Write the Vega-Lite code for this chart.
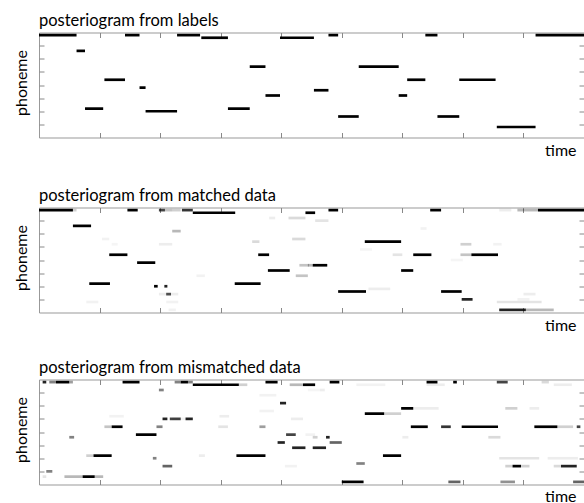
{
  "$schema": "https://vega.github.io/schema/vega-lite/v6.json",
  "padding": {"left": 12, "top": 11.5, "right": 0, "bottom": 0},
  "spacing": 24,
  "config": {
    "font": "Lato",
    "view": {"stroke": "#999", "strokeWidth": 1},
    "title": {"anchor": "start", "frame": "group", "fontSize": 16.5, "font": "Lato", "fontWeight": "normal", "color": "#000", "baseline": "alphabetic", "offset": 3},
    "axis": {"domain": false, "labels": false, "grid": false, "tickColor": "#888", "tickSize": -5, "tickWidth": 1, "titleFont": "Lato", "titleFontSize": 16, "titleFontWeight": "normal", "titleColor": "#000"}
  },
  "datasets": {
    "p1": [
      {"s":0,"e":31,"r":1,"v":1},{"s":31,"e":38,"r":7,"v":1},{"s":38,"e":53,"r":29,"v":1},{"s":54,"e":71,"r":18,"v":1},
      {"s":71,"e":83,"r":1,"v":1},{"s":83,"e":88,"r":21,"v":1},{"s":88,"e":114,"r":30,"v":1},{"s":114,"e":133,"r":1,"v":1},
      {"s":134,"e":156,"r":2,"v":1},{"s":156,"e":174,"r":29,"v":1},{"s":174,"e":187,"r":13,"v":1},{"s":187,"e":199,"r":24,"v":1},
      {"s":199,"e":227,"r":2,"v":1},{"s":227,"e":239,"r":22,"v":1},{"s":239,"e":247,"r":1,"v":1},{"s":247,"e":264,"r":32,"v":1},
      {"s":264,"e":297,"r":13,"v":1},{"s":297,"e":304,"r":24,"v":1},{"s":304,"e":319,"r":18,"v":1},{"s":319,"e":329,"r":1,"v":1},
      {"s":329,"e":347,"r":32,"v":1},{"s":347,"e":377,"r":18,"v":1},{"s":378,"e":410,"r":36,"v":1},{"s":410,"e":450,"r":1,"v":1}
    ],
    "p2": [
      {"s":0,"e":28,"r":1,"v":1},{"s":28,"e":31,"r":1,"v":0.3},{"s":28,"e":43,"r":7,"v":1},{"s":41.5,"e":58.6,"r":29,"v":1},
      {"s":58,"e":73,"r":18,"v":1},{"s":73,"e":81.5,"r":1,"v":1},{"s":81,"e":96,"r":21,"v":1},{"s":95,"e":98,"r":30,"v":1},
      {"s":103.5,"e":106,"r":30,"v":0.9},{"s":99,"e":104,"r":1,"v":0.8},{"s":104,"e":110,"r":1,"v":0.35},{"s":110,"e":117,"r":1,"v":0.3},
      {"s":118,"e":127,"r":1,"v":0.85},{"s":127,"e":162,"r":2,"v":1},{"s":161.6,"e":183,"r":29,"v":1},{"s":181,"e":190,"r":18,"v":1},
      {"s":189,"e":207,"r":24,"v":1},{"s":206,"e":220,"r":4,"v":0.25},{"s":220,"e":228,"r":2,"v":1},{"s":226,"e":238,"r":22,"v":1},
      {"s":222,"e":226,"r":22,"v":0.4},{"s":228,"e":239,"r":5,"v":0.2},{"s":239,"e":247,"r":1,"v":1},{"s":247,"e":270,"r":32,"v":1},
      {"s":269,"e":299,"r":13,"v":1},{"s":299,"e":309,"r":24,"v":1},{"s":309,"e":324,"r":18,"v":1},{"s":323,"e":332,"r":1,"v":1},
      {"s":332,"e":349,"r":32,"v":1},{"s":348,"e":357,"r":18,"v":0.35},{"s":357,"e":379,"r":18,"v":1},{"s":349,"e":358,"r":35,"v":0.9},
      {"s":378,"e":415,"r":36,"v":0.2},{"s":380,"e":402,"r":39,"v":0.9},{"s":402,"e":425,"r":39,"v":0.4},{"s":380,"e":390,"r":1,"v":0.15},
      {"s":395,"e":412,"r":1,"v":0.4},{"s":412,"e":450,"r":1,"v":1},
      {"s":110,"e":117,"r":9,"v":0.4},{"s":176,"e":182,"r":13,"v":0.25},{"s":209,"e":220,"r":12,"v":0.25},{"s":215,"e":223,"r":22,"v":0.35},
      {"s":212,"e":222,"r":26,"v":0.35},{"s":52,"e":58,"r":12,"v":0.12},{"s":60,"e":65,"r":14,"v":0.1},{"s":99,"e":110,"r":14,"v":0.15},
      {"s":99,"e":115,"r":33,"v":0.15},{"s":105,"e":109,"r":33,"v":0.75},{"s":105,"e":115,"r":36,"v":0.12},{"s":107,"e":113,"r":39,"v":0.12},
      {"s":130,"e":137,"r":26,"v":0.12},{"s":39,"e":49,"r":36,"v":0.12},{"s":292,"e":300,"r":18,"v":0.2},{"s":348,"e":357,"r":14,"v":0.3},
      {"s":272,"e":290,"r":31,"v":0.15},{"s":375,"e":382,"r":14,"v":0.12},{"s":315,"e":320,"r":8,"v":0.12},{"s":265,"e":275,"r":16,"v":0.1},
      {"s":400,"e":410,"r":33,"v":0.15},{"s":395,"e":405,"r":35,"v":0.12},{"s":340,"e":350,"r":20,"v":0.1},{"s":190,"e":195,"r":4,"v":0.15}
    ],
    "p3": [
      {"s":3,"e":6,"r":1,"v":0.9},{"s":8.5,"e":14,"r":1,"v":0.6},{"s":14,"e":25,"r":1,"v":1},{"s":25,"e":28,"r":1,"v":0.5},
      {"s":69,"e":83,"r":1,"v":1},{"s":112,"e":117,"r":1,"v":0.6},{"s":117,"e":123,"r":1,"v":1},{"s":123,"e":127,"r":1,"v":0.6},
      {"s":127,"e":165,"r":2,"v":1},{"s":165,"e":172,"r":2,"v":0.3},{"s":187,"e":197,"r":1,"v":1},{"s":207,"e":218,"r":2,"v":0.4},
      {"s":218,"e":228,"r":2,"v":1},{"s":99,"e":103,"r":4,"v":0.6},{"s":182,"e":196,"r":6,"v":0.12},{"s":199,"e":204,"r":9,"v":0.9},
      {"s":102,"e":106,"r":15,"v":0.9},{"s":108,"e":117,"r":15,"v":0.8},{"s":121,"e":127,"r":15,"v":0.9},{"s":54,"e":60,"r":18,"v":0.35},
      {"s":60,"e":69,"r":18,"v":1},{"s":97,"e":102,"r":18,"v":0.6},{"s":182,"e":187,"r":18,"v":0.5},{"s":80,"e":97,"r":21,"v":1},
      {"s":25,"e":29,"r":22,"v":0.6},{"s":204,"e":212,"r":21,"v":0.8},{"s":197,"e":203,"r":24,"v":0.9},{"s":209,"e":220,"r":26,"v":0.9},
      {"s":39,"e":45,"r":29,"v":0.3},{"s":45,"e":60,"r":29,"v":1},{"s":163,"e":187,"r":29,"v":1},{"s":132,"e":137,"r":29,"v":0.15},
      {"s":94,"e":97,"r":30,"v":0.6},{"s":102,"e":110,"r":33,"v":0.7},{"s":6,"e":11,"r":35,"v":0.6},{"s":21,"e":36,"r":37,"v":0.4},
      {"s":36,"e":46,"r":37,"v":1},{"s":46,"e":53,"r":37,"v":0.4},{"s":3,"e":6,"r":37,"v":0.2},
      {"s":240,"e":248,"r":1,"v":1},{"s":320,"e":329,"r":1,"v":1},{"s":342,"e":345,"r":1,"v":1},{"s":378,"e":387,"r":1,"v":0.8},
      {"s":415,"e":421,"r":1,"v":0.25},{"s":299,"e":309,"r":11,"v":1},{"s":269,"e":285,"r":13,"v":1},{"s":285,"e":299,"r":13,"v":0.3},
      {"s":307,"e":321,"r":18,"v":1},{"s":332,"e":340,"r":18,"v":0.85},{"s":349,"e":379,"r":18,"v":1},{"s":409,"e":428,"r":18,"v":1},
      {"s":428,"e":441,"r":18,"v":0.3},{"s":444,"e":447,"r":18,"v":0.8},{"s":226,"e":230,"r":22,"v":0.3},{"s":237,"e":240,"r":22,"v":0.9},
      {"s":240,"e":250,"r":24,"v":0.7},{"s":226,"e":237,"r":26,"v":0.9},{"s":284,"e":299,"r":29,"v":1},{"s":262,"e":269,"r":32,"v":0.6},
      {"s":391,"e":398,"r":33,"v":1},{"s":385,"e":391,"r":33,"v":0.3},{"s":398,"e":405,"r":33,"v":0.3},{"s":431,"e":444,"r":33,"v":0.9},
      {"s":425,"e":431,"r":33,"v":0.25},{"s":250,"e":268,"r":39,"v":1},{"s":338,"e":348,"r":39,"v":0.7},{"s":381,"e":393,"r":39,"v":0.55},
      {"s":441,"e":450,"r":39,"v":0.7},{"s":300,"e":330,"r":11,"v":0.15},{"s":380,"e":413,"r":30,"v":0.2},{"s":385,"e":395,"r":11,"v":0.3},
      {"s":405,"e":413,"r":11,"v":0.15},{"s":371,"e":381,"r":22,"v":0.25},{"s":300,"e":305,"r":22,"v":0.15},{"s":420,"e":445,"r":30,"v":0.15},
      {"s":425,"e":440,"r":2,"v":0.15},{"s":262,"e":286,"r":2,"v":0.12},{"s":222,"e":232,"r":4,"v":0.1},{"s":320,"e":335,"r":2,"v":0.15},
      {"s":58,"e":70,"r":14,"v":0.12},{"s":110,"e":125,"r":15,"v":0.12},{"s":149,"e":157,"r":14,"v":0.15},{"s":182,"e":194,"r":12,"v":0.12},
      {"s":208,"e":218,"r":15,"v":0.15},{"s":220,"e":228,"r":21,"v":0.12},{"s":203,"e":213,"r":33,"v":0.12},{"s":148,"e":156,"r":18,"v":0.2},
      {"s":232,"e":236,"r":4,"v":0.15}
    ]
  },
  "vconcat": [
    {
      "spacing": 27,
      "vconcat": [
        {
          "width": 545, "height": 105,
          "title": {"text": "posteriogram from labels"},
          "data": {"name": "p1"},
          "layer": [
            {"mark": {"type": "rule", "strokeWidth": 2.7, "color": "black", "strokeCap": "butt"},
             "encoding": {
               "x": {"field": "s", "type": "quantitative", "scale": {"domain": [0, 450], "nice": false, "zero": false}, "axis": {"orient": "bottom", "values": [50,100,150,200,250,300,350,400], "title": "time", "titleAnchor": "end", "titleAlign": "right", "titleX": 537, "titleY": 18, "titleBaseline": "alphabetic"}},
               "x2": {"field": "e"},
               "y": {"field": "r", "type": "quantitative", "scale": {"domain": [0, 40], "nice": false, "zero": false, "reverse": true}, "axis": {"orient": "left", "values": [5,10,15,20,25,30,35], "title": "phoneme", "titleX": -13, "titleY": 50, "titleBaseline": "alphabetic", "titleAngle": -90, "titleAlign": "center"}},
               "opacity": {"field": "v", "type": "quantitative", "scale": {"type": "pow", "exponent": 1.4, "domain": [0, 1], "range": [0, 1]}, "legend": null}
             }},
            {"mark": {"type": "rule", "opacity": 0},
             "encoding": {
               "x": {"field": "s", "type": "quantitative", "axis": {"orient": "top", "values": [50,100,150,200,250,300,350,400], "title": null}},
               "x2": {"field": "e"},
               "y": {"field": "r", "type": "quantitative", "axis": {"orient": "right", "values": [5,10,15,20,25,30,35], "title": null}}
             }}
          ],
          "resolve": {"axis": {"x": "independent", "y": "independent"}}
        },
        {
          "width": 545, "height": 105,
          "title": {"text": "posteriogram from matched data"},
          "data": {"name": "p2"},
          "layer": [
            {"mark": {"type": "rule", "strokeWidth": 2.7, "color": "black", "strokeCap": "butt"},
             "encoding": {
               "x": {"field": "s", "type": "quantitative", "scale": {"domain": [0, 450], "nice": false, "zero": false}, "axis": {"orient": "bottom", "values": [50,100,150,200,250,300,350,400], "title": "time", "titleAnchor": "end", "titleAlign": "right", "titleX": 537, "titleY": 18, "titleBaseline": "alphabetic"}},
               "x2": {"field": "e"},
               "y": {"field": "r", "type": "quantitative", "scale": {"domain": [0, 40], "nice": false, "zero": false, "reverse": true}, "axis": {"orient": "left", "values": [5,10,15,20,25,30,35], "title": "phoneme", "titleX": -13, "titleY": 50, "titleBaseline": "alphabetic", "titleAngle": -90, "titleAlign": "center"}},
               "opacity": {"field": "v", "type": "quantitative", "scale": {"type": "pow", "exponent": 1.4, "domain": [0, 1], "range": [0, 1]}, "legend": null}
             }},
            {"mark": {"type": "rule", "opacity": 0},
             "encoding": {
               "x": {"field": "s", "type": "quantitative", "axis": {"orient": "top", "values": [50,100,150,200,250,300,350,400], "title": null}},
               "x2": {"field": "e"},
               "y": {"field": "r", "type": "quantitative", "axis": {"orient": "right", "values": [5,10,15,20,25,30,35], "title": null}}
             }}
          ],
          "resolve": {"axis": {"x": "independent", "y": "independent"}}
        }
      ]
    },
    {
      "width": 545, "height": 105,
      "title": {"text": "posteriogram from mismatched data"},
      "data": {"name": "p3"},
      "layer": [
        {"mark": {"type": "rule", "strokeWidth": 2.7, "color": "black", "strokeCap": "butt"},
         "encoding": {
           "x": {"field": "s", "type": "quantitative", "scale": {"domain": [0, 450], "nice": false, "zero": false}, "axis": {"orient": "bottom", "values": [50,100,150,200,250,300,350,400], "title": "time", "titleAnchor": "end", "titleAlign": "right", "titleX": 537, "titleY": 16.5, "titleBaseline": "alphabetic"}},
           "x2": {"field": "e"},
           "y": {"field": "r", "type": "quantitative", "scale": {"domain": [0, 40], "nice": false, "zero": false, "reverse": true}, "axis": {"orient": "left", "values": [5,10,15,20,25,30,35], "title": "phoneme", "titleX": -13, "titleY": 50, "titleBaseline": "alphabetic", "titleAngle": -90, "titleAlign": "center"}},
           "opacity": {"field": "v", "type": "quantitative", "scale": {"type": "pow", "exponent": 1.4, "domain": [0, 1], "range": [0, 1]}, "legend": null}
         }},
        {"mark": {"type": "rule", "opacity": 0},
         "encoding": {
           "x": {"field": "s", "type": "quantitative", "axis": {"orient": "top", "values": [50,100,150,200,250,300,350,400], "title": null}},
           "x2": {"field": "e"},
           "y": {"field": "r", "type": "quantitative", "axis": {"orient": "right", "values": [5,10,15,20,25,30,35], "title": null}}
         }}
      ],
      "resolve": {"axis": {"x": "independent", "y": "independent"}}
    }
  ]
}
